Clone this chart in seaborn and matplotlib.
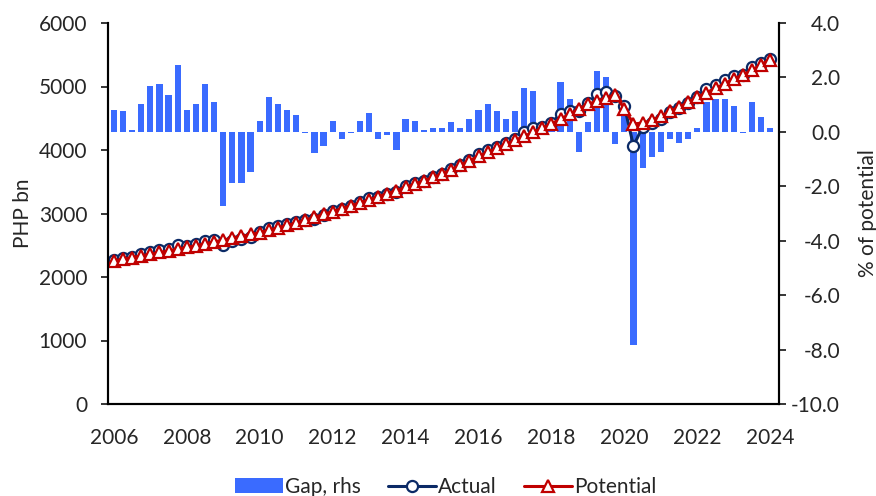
import matplotlib
matplotlib.use("Agg")
import matplotlib.pyplot as plt
from matplotlib.lines import Line2D
from matplotlib.patches import Patch
import seaborn as sns

sns.set_style("white")
plt.rcParams["font.family"] = ["Lato", "DejaVu Sans"]
plt.rcParams["axes.unicode_minus"] = False

# quarterly, 2006Q1 .. 2024Q1
quarters = [2006 + i * 0.25 for i in range(73)]

# output gap, % of potential (rhs)
gap = [0.82, 0.75, 0.08, 1.02, 1.70, 1.76, 1.35, 2.44,
       0.82, 1.02, 1.76, 1.08, -2.74, -1.87, -1.87, -1.46,
       0.41, 1.28, 1.02, 0.82, 0.61, -0.06, -0.79, -0.52,
       0.41, -0.25, -0.06, 0.41, 0.69, -0.25, -0.12, -0.66,
       0.48, 0.41, 0.08, 0.14, 0.14, 0.35, 0.14, 0.48,
       0.82, 1.02, 0.75, 0.48, 0.75, 1.62, 1.49, 0.25,
       0.40, 1.82, 1.22, -0.73, 0.35, 2.22, 2.03, -0.46,
       0.90, -7.85, -1.33, -0.93, -0.74, -0.25, -0.40, -0.25,
       0.14, 1.08, 1.22, 1.22, 0.95, -0.05, 1.08, 0.54,
       0.14]

# real GDP, PHP bn
actual = [2274, 2298, 2309, 2357, 2400, 2428, 2445, 2497,
          2485, 2519, 2567, 2581, 2511, 2562, 2591, 2631,
          2711, 2772, 2803, 2835, 2867, 2893, 2917, 2969,
          3042, 3068, 3120, 3181, 3237, 3256, 3309, 3339,
          3426, 3476, 3518, 3572, 3625, 3703, 3765, 3848,
          3932, 4002, 4055, 4107, 4181, 4283, 4344, 4356,
          4428, 4569, 4621, 4608, 4737, 4876, 4918, 4848,
          4692, 4064, 4366, 4423, 4496, 4598, 4656, 4738,
          4837, 4958, 5031, 5107, 5169, 5177, 5312, 5374,
          5433]

potential = [2255, 2281, 2307, 2333, 2360, 2386, 2412, 2438,
             2465, 2494, 2523, 2553, 2582, 2611, 2640, 2670,
             2700, 2737, 2775, 2812, 2850, 2895, 2940, 2985,
             3030, 3076, 3122, 3168, 3215, 3264, 3313, 3361,
             3410, 3462, 3515, 3567, 3620, 3690, 3760, 3830,
             3900, 3962, 4025, 4087, 4150, 4215, 4280, 4345,
             4410, 4487, 4565, 4642, 4720, 4770, 4820, 4870,
             4650, 4410, 4425, 4465, 4530, 4610, 4675, 4750,
             4830, 4905, 4970, 5045, 5120, 5180, 5255, 5345,
             5425]

bar_col = "#3A6BFF"
navy = "#0B2A66"
red = "#C00000"

fig, ax = plt.subplots(figsize=(8.76, 4.96), dpi=100)
fig.subplots_adjust(left=108 / 876, right=779 / 876, top=1 - 23 / 496, bottom=1 - 404 / 496)
ax2 = ax.twinx()

sns.barplot(x=quarters, y=gap, ax=ax2, native_scale=True, color=bar_col,
            width=0.68, errorbar=None, saturation=1, linewidth=0)

sns.lineplot(x=quarters, y=actual, ax=ax, color=navy, linewidth=2.2,
             marker="o", markersize=8, markerfacecolor="white",
             markeredgecolor=navy, markeredgewidth=1.6)
sns.lineplot(x=quarters, y=potential, ax=ax, color=red, linewidth=2.2,
             marker="^", markersize=8.5, markerfacecolor="white",
             markeredgecolor=red, markeredgewidth=1.6)

# lines above bars
ax.set_zorder(ax2.get_zorder() + 1)
ax.patch.set_visible(False)

ax.set_xlim(2005.84, 2024.24)
ax.set_xticks(range(2006, 2025, 2))
ax.set_xticklabels([str(y) for y in range(2006, 2025, 2)])
ax.set_ylim(0, 6000)
ax.set_yticks(range(0, 6001, 1000))
ax2.set_ylim(-10, 4)
ax2.set_yticks(range(-10, 5, 2))
ax2.set_yticklabels([f"{v:.1f}" for v in range(-10, 5, 2)])

ax.set_xlabel("")
ax.set_ylabel("PHP bn", fontsize=15)
ax2.set_ylabel("% of potential", fontsize=15)
ax.yaxis.set_label_coords(-0.112, 0.5)
ax2.yaxis.set_label_coords(1.117, 0.5)

ax.tick_params(axis="x", length=0, pad=17, labelsize=15)
ax.tick_params(axis="y", direction="out", length=5, width=1.3, pad=10,
               labelsize=15, left=True)
ax2.tick_params(axis="y", direction="out", length=5, width=1.3, pad=39,
                labelsize=15, right=True)
plt.setp(ax2.get_yticklabels(), ha="right")

for a in (ax, ax2):
    a.spines["top"].set_visible(False)
    for s in ("left", "right", "bottom"):
        a.spines[s].set_color("black")
        a.spines[s].set_linewidth(1.5)
    a.grid(False)

handles = [
    Patch(facecolor=bar_col, edgecolor="none"),
    Line2D([], [], color=navy, linewidth=2.2, marker="o", markersize=8,
           markerfacecolor="white", markeredgecolor=navy, markeredgewidth=1.6),
    Line2D([], [], color=red, linewidth=2.2, marker="^", markersize=8.5,
           markerfacecolor="white", markeredgecolor=red, markeredgewidth=1.6),
]
fig.legend(handles, ["Gap, rhs", "Actual", "Potential"], loc="center",
           bbox_to_anchor=(0.509, 0.018), ncol=3, frameon=False, fontsize=15,
           handlelength=2.3, handletextpad=0.1, columnspacing=1.3)

fig.savefig("out.png", dpi=100)
